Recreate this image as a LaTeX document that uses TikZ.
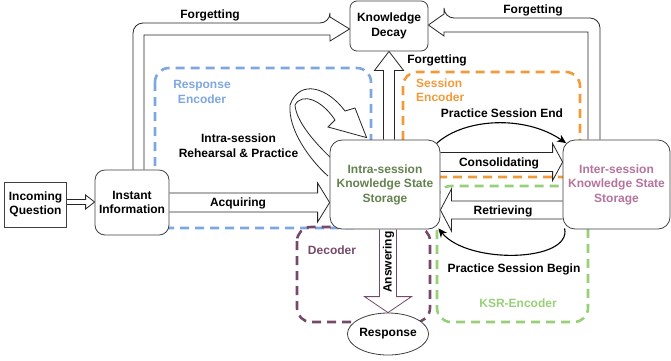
\documentclass[tikz,border=0pt]{standalone}
\usepackage{fontspec}
\setmainfont{Liberation Sans}
\usetikzlibrary{calc,arrows.meta,shapes.geometric}
\pgfdeclarelayer{bg}
\pgfdeclarelayer{mid}
\pgfsetlayers{bg,mid,main}
\definecolor{cblue}{HTML}{7EA6E0}
\definecolor{corange}{HTML}{F39A38}
\definecolor{cgreen}{HTML}{97D077}
\definecolor{cpurple}{HTML}{76496B}
\definecolor{tgreen}{HTML}{64824F}
\definecolor{tpink}{HTML}{B5739D}
\newcommand\blkarrow[6][]{%
  \coordinate (ba-a) at #2;
  \coordinate (ba-b) at #3;
  \coordinate (ba-h) at ($(ba-b)!#6!(ba-a)$);
  \filldraw[blockarrow,#1] ($(ba-a)!#4!90:(ba-b)$) -- ($(ba-h)!#4!90:(ba-b)$) -- ($(ba-h)!#5!90:(ba-b)$) -- (ba-b) -- ($(ba-h)!#5!-90:(ba-b)$) -- ($(ba-h)!#4!-90:(ba-b)$) -- ($(ba-a)!#4!-90:(ba-b)$);
}
\begin{document}
\begin{tikzpicture}[x=1pt,y=-1pt,
  every node/.style={font=\fontsize{12}{14.5}\selectfont\bfseries},
  box/.style={draw=black!75, line width=0.8pt, fill=white, align=center, inner sep=0pt},
  rbox/.style={box, rounded corners=12pt},
  blockarrow/.style={draw=black!85, fill=white, line width=0.8pt, line join=miter},
  region/.style={line width=2.6pt, dash pattern=on 9pt off 6pt, rounded corners=14pt},
  curvearrow/.style={draw=black, line width=1.1pt, -{Stealth[length=9pt,width=8pt]}},
  lbl/.style={inner sep=0pt, align=center}]
\useasboundingbox (0,0) rectangle (671,360);

% nodes
\node[box, minimum width=62pt, minimum height=45pt] (q) at (35.5,204.5) {Incoming\\Question};
\node[box, rounded corners=10pt, minimum width=74pt, minimum height=65pt] (inst) at (132,202.5) {Instant\\Information};
\node[rbox, minimum width=110pt, minimum height=89pt, text=tgreen] (intra) at (385,184.5) {Intra-session\\Knowledge State\\Storage};
\node[rbox, minimum width=107pt, minimum height=89pt, text=tpink] (inter) at (616.5,184.5) {Inter-session\\Knowledge State\\Storage};
\node[box, rounded corners=7pt, minimum width=78pt, minimum height=50pt] (decay) at (389,26) {Knowledge\\Decay};
\node[box, ellipse, minimum width=80pt, minimum height=42pt] (resp) at (388,334) {Response};

% dashed regions
\begin{pgfonlayer}{bg}
\draw[region, cblue] (155,68) rectangle (371,228);
\draw[region, corange] (403,72) rectangle (580,177);
\draw[region, cgreen] (437,186) rectangle (588,322);
\draw[region, cpurple] (297,227) rectangle (430,322);
\end{pgfonlayer}

% block arrows
\begin{pgfonlayer}{mid}
\blkarrow{($(q.east)+(0,-2.5)$)}{($(q.east -| inst.west)+(0,-2.5)$)}{2.5pt}{7pt}{9pt}
\blkarrow{(inst.east)}{(inst.east -| intra.west)}{9.5pt}{19.5pt}{12pt}
\blkarrow{($(intra.east)+(0,-22.5)$)}{($(inter.west)+(0,-22.5)$)}{9.5pt}{18.5pt}{10pt}
\blkarrow{($(inter.west)+(0,25.5)$)}{($(intra.east)+(0,25.5)$)}{9pt}{21pt}{11pt}
\blkarrow{(decay.south |- intra.north)}{(decay.south)}{5.5pt}{14.5pt}{19pt}
\blkarrow[draw=cpurple]{(resp.north |- intra.south)}{(resp.north)}{8.5pt}{23.5pt}{16pt}
% forgetting from instant information
\filldraw[blockarrow] ($(inst.north)+(1,0)$) [rounded corners=10pt] -- (133,23) -- (330,23) [sharp corners] -- (330,17) -- ($(decay.west)+(0,3)$) -- (330,41) -- (330,35) -- (144,35) -- ($(inst.north)+(12,0)$);
% forgetting from inter-session
\filldraw[blockarrow] ($(inter.north)+(-16.5,0)$) [rounded corners=10pt] -- (600,18) -- (444,18) [sharp corners] -- (444,14) -- ($(decay.east)+(0,-1)$) -- (444,36) -- (444,32) -- (588,32) -- ($(inter.north)+(-28.5,0)$);
% self loop
\filldraw[blockarrow] (331,158) .. controls (312,140) and (296,120) .. (295,105)
  .. controls (302,92) and (322,100) .. (335,120) -- (328,127) -- ($(intra.north west)+(37,-2)$)
  -- (355,108) -- (345,111) .. controls (328,88) and (300,78) .. (290,105)
  .. controls (288,130) and (310,160) .. (328,176);
\end{pgfonlayer}

% curved arrows
\draw[curvearrow] ($(intra.north east)+(-3.5,3.5)$) .. controls (465,118) and (525,115) .. ($(inter.north west)+(3.5,3.5)$);
\draw[curvearrow] ($(inter.south west)+(2,-1)$) .. controls (572,262) and (468,265) .. ($(intra.south east)+(-2,-1)$);

% labels
\node[lbl] at (210,15) {Forgetting};
\node[lbl] at (533,10) {Forgetting};
\node[lbl] at (437,60) {Forgetting};
\node[lbl] at (238.5,145.5) {Intra-session\\Rehearsal \& Practice};
\node[lbl] at (502,113) {Practice Session End};
\node[lbl] at (499,163) {Consolidating};
\node[lbl] at (503,211) {Retrieving};
\node[lbl] at (514,269) {Practice Session Begin};
\node[lbl] at (238,203) {Acquiring};
\node[lbl, rotate=90] at (388.5,262) {Answering};
\node[lbl, text=cblue] at (202,92) {Response\\Encoder};
\node[lbl, text=corange, align=left, anchor=west] at (416,90) {Session\\Encoder};
\node[lbl, text=cgreen] at (518,303) {KSR-Encoder};
\node[lbl, text=cpurple] at (332,250) {Decoder};
\end{tikzpicture}
\end{document}
